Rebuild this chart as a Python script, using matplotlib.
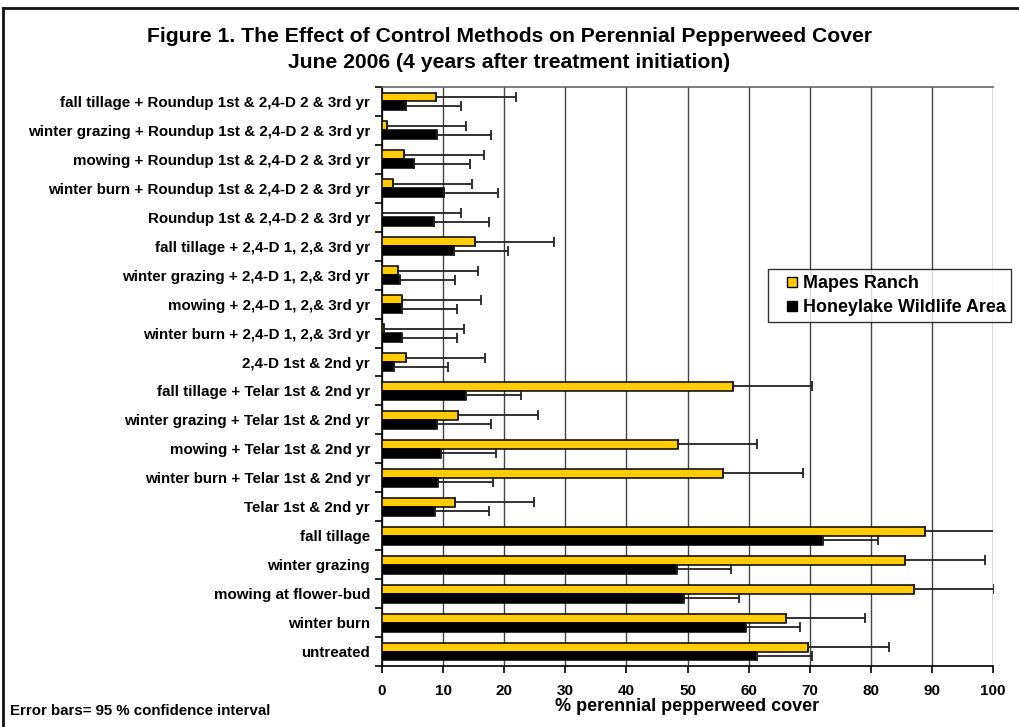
import matplotlib
matplotlib.use("Agg")
import matplotlib.pyplot as plt
import numpy as np
from matplotlib.lines import Line2D

plt.rcParams['font.family'] = ['Liberation Sans', 'DejaVu Sans']
plt.rcParams['font.weight'] = 'bold'

# top-to-bottom order as in the chart
categories = [
    "fall tillage + Roundup 1st & 2,4-D 2 & 3rd yr",
    "winter grazing + Roundup 1st & 2,4-D 2 & 3rd yr",
    "mowing + Roundup 1st & 2,4-D 2 & 3rd yr",
    "winter burn + Roundup 1st & 2,4-D 2 & 3rd yr",
    "Roundup 1st & 2,4-D 2 & 3rd yr",
    "fall tillage + 2,4-D 1, 2,& 3rd yr",
    "winter grazing + 2,4-D 1, 2,& 3rd yr",
    "mowing + 2,4-D 1, 2,& 3rd yr",
    "winter burn + 2,4-D 1, 2,& 3rd yr",
    "2,4-D 1st & 2nd yr",
    "fall tillage + Telar 1st & 2nd yr",
    "winter grazing + Telar 1st & 2nd yr",
    "mowing + Telar 1st & 2nd yr",
    "winter burn + Telar 1st & 2nd yr",
    "Telar 1st & 2nd yr",
    "fall tillage",
    "winter grazing",
    "mowing at flower-bud",
    "winter burn",
    "untreated",
]
mapes = [8.8, 0.8, 3.6, 1.8, 0.0, 15.2, 2.7, 3.2, 0.3, 3.9,
         57.4, 12.5, 48.4, 55.8, 11.9, 88.9, 85.6, 87.1, 66.1, 69.7]
mapes_err = [13.1, 13.0, 13.1, 13.0, 13.0, 12.9, 13.0, 13.0, 13.1, 12.9,
             13.0, 13.0, 13.0, 13.1, 12.9, 12.1, 13.1, 13.0, 13.0, 13.2]
honey = [4.0, 9.0, 5.3, 10.1, 8.5, 11.8, 3.0, 3.3, 3.3, 1.9,
         13.8, 9.0, 9.7, 9.2, 8.6, 72.2, 48.2, 49.5, 59.5, 61.4]
honey_err = [9.0, 8.9, 9.1, 8.9, 9.0, 8.9, 9.0, 8.9, 8.9, 8.9,
             8.9, 8.9, 8.9, 9.0, 8.9, 8.9, 8.9, 8.9, 8.9, 8.9]
series_names = ["Mapes Ranch", "Honeylake Wildlife Area"]
xticks = [0, 10, 20, 30, 40, 50, 60, 70, 80, 90, 100]

W, H = 1019, 727
fig = plt.figure(figsize=(W / 100, H / 100), dpi=100)
ax = fig.add_axes([382 / W, 1 - 666 / H, (993 - 382) / W, (666 - 87) / H])

n = len(categories)
y = np.arange(n)
bh = 0.31
yellow = '#FFCC00'

ax.barh(y - bh / 2, mapes, height=bh, color=yellow, edgecolor='black', linewidth=1.1, zorder=3)
ax.barh(y + bh / 2, honey, height=bh, color='black', edgecolor='black', linewidth=1.1, zorder=3)
ax.errorbar(mapes, y - bh / 2, xerr=[np.zeros(n), mapes_err], fmt='none', ecolor='#222222',
            elinewidth=1.3, capsize=3.3, capthick=1.3, zorder=4)
ax.errorbar(honey, y + bh / 2, xerr=[np.zeros(n), honey_err], fmt='none', ecolor='#222222',
            elinewidth=1.3, capsize=3.3, capthick=1.3, zorder=4)

ax.set_xlim(0, 100)
ax.set_ylim(n - 0.5, -0.5)
ax.set_xticks(xticks)
ax.set_xticklabels([str(t) for t in xticks], fontsize=11, fontweight='bold')
ax.set_yticks(y)
ax.set_yticklabels(categories, fontsize=10.9, fontweight='bold')
ax.set_yticks(np.arange(n + 1) - 0.5, minor=True)
ax.tick_params(axis='y', which='major', length=0, pad=8.6)
ax.tick_params(axis='y', which='minor', length=5, width=1.2, direction='out')
ax.tick_params(axis='x', which='major', length=5, width=1.2, direction='out', pad=8)
ax.xaxis.grid(True, color='#444444', linewidth=1.0, zorder=0)
ax.set_axisbelow(True)
for s in ['left', 'bottom', 'top']:
    ax.spines[s].set_linewidth(1.2)
    ax.spines[s].set_color('black')
ax.spines['top'].set_color('#666666')
ax.spines['right'].set_visible(False)

ax.set_xlabel("% perennial pepperweed cover", fontsize=13, fontweight='bold', labelpad=0)

fig.text(0.5, 1 - 37 / H, "Figure 1. The Effect of Control Methods on Perennial Pepperweed Cover",
         ha='center', va='center', fontsize=15.2, fontweight='bold')
fig.text(0.5, 1 - 62 / H, "June 2006 (4 years after treatment initiation)",
         ha='center', va='center', fontsize=15.2, fontweight='bold')
fig.text(10 / W, 1 - 711 / H, "Error bars= 95 % confidence interval",
         ha='left', va='center', fontsize=10.8, fontweight='bold')

handles = [Line2D([], [], linestyle='none', marker='s', markersize=7.7,
                  markerfacecolor=yellow, markeredgecolor='black', markeredgewidth=1.0),
           Line2D([], [], linestyle='none', marker='s', markersize=7.7,
                  markerfacecolor='black', markeredgecolor='black', markeredgewidth=1.0)]
leg = fig.legend(handles, series_names, loc='upper left',
                 bbox_to_anchor=(768 / W, 1 - 269 / H),
                 prop={'weight': 'bold', 'size': 12.9},
                 frameon=True, fancybox=False, shadow=False, borderaxespad=0,
                 handlelength=2.0, handletextpad=-0.4,
                 borderpad=0.33, labelspacing=0.42)
leg.get_frame().set_edgecolor('black')
leg.get_frame().set_linewidth(1.0)

# figure border
fig.add_artist(Line2D([3 / W, 3 / W], [0, 1 - 8 / H], transform=fig.transFigure, color='#111111', linewidth=2))
fig.add_artist(Line2D([3 / W, 1], [1 - 8 / H, 1 - 8 / H], transform=fig.transFigure, color='#111111', linewidth=2))

fig.savefig("out.png", dpi=100)
